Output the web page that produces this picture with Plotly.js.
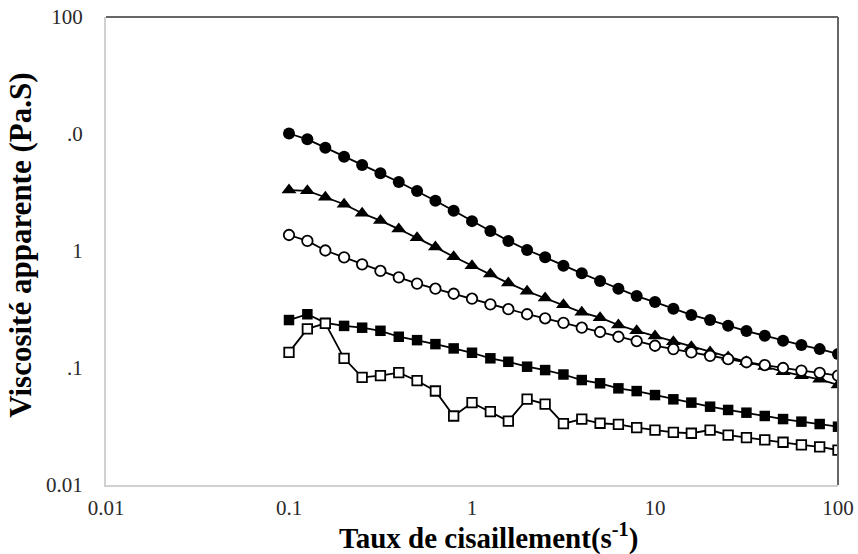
<!DOCTYPE html>
<html>
<head>
<meta charset="utf-8">
<script src="https://cdn.plot.ly/plotly-3.0.1.min.js"></script>
<style>html,body{margin:0;padding:0;background:#fff;}#chart{width:858px;height:554px;}</style>
</head>
<body>
<div id="chart"></div>
<script>
// Shear rate (s^-1)
const shearRate = [0.1, 0.126, 0.158, 0.2, 0.251, 0.316, 0.398, 0.501, 0.631, 0.794,
  1, 1.26, 1.58, 2, 2.51, 3.16, 3.98, 5.01, 6.31, 7.94,
  10, 12.6, 15.8, 20, 25.1, 31.6, 39.8, 50.1, 63.1, 79.4, 100];

// Apparent viscosity (Pa.s) for each sample
const filledCircles = [10.1, 9.0, 7.64, 6.40, 5.43, 4.61, 3.89, 3.26, 2.69, 2.21,
  1.80, 1.48, 1.22, 1.02, 0.883, 0.749, 0.644, 0.554, 0.476, 0.412,
  0.366, 0.321, 0.284, 0.257, 0.230, 0.207, 0.189, 0.171, 0.157, 0.145, 0.132];
const filledTriangles = [3.32, 3.27, 2.88, 2.51, 2.10, 1.82, 1.54, 1.30, 1.08, 0.893,
  0.748, 0.635, 0.532, 0.453, 0.396, 0.347, 0.299, 0.269, 0.233, 0.208,
  0.188, 0.168, 0.152, 0.137, 0.124, 0.113, 0.103, 0.093, 0.086, 0.080, 0.0716];
const openCircles = [1.37, 1.22, 1.01, 0.883, 0.769, 0.675, 0.596, 0.527, 0.476, 0.431,
  0.391, 0.350, 0.318, 0.288, 0.266, 0.243, 0.221, 0.203, 0.185, 0.170,
  0.155, 0.145, 0.136, 0.127, 0.119, 0.112, 0.106, 0.100, 0.095, 0.091, 0.086];
const filledSquares = [0.257, 0.288, 0.243, 0.229, 0.221, 0.208, 0.185, 0.173, 0.160, 0.147,
  0.135, 0.121, 0.113, 0.1026, 0.096, 0.088, 0.0789, 0.0740, 0.0670, 0.0635,
  0.0587, 0.0540, 0.0506, 0.0467, 0.0438, 0.0415, 0.0389, 0.0366, 0.0348, 0.0332, 0.0315];
const openSquares = [0.136, 0.216, 0.241, 0.121, 0.0833, 0.0859, 0.0912, 0.0779, 0.0636, 0.0389,
  0.0505, 0.0423, 0.0352, 0.0543, 0.0492, 0.0334, 0.0366, 0.0337, 0.0330, 0.0309,
  0.0295, 0.0282, 0.0277, 0.0295, 0.0267, 0.0254, 0.0243, 0.0232, 0.0220, 0.0212, 0.0199];

// Axis ticks as printed
const xTickVals = [0.01, 0.1, 1, 10, 100];
const xTickText = ['0.01', '0.1', '1', '10', '100'];
const yTickVals = [0.01, 0.1, 1, 10, 100];
const yTickText = ['0.01', '.1', '1', '.0', '100'];

const xTitle = 'Taux de cisaillement(s<sup>-1</sup>)';
const yTitle = 'Viscosité apparente (Pa.S)';

function trace(name, y, symbol, fill, size) {
  return {
    type: 'scatter', mode: 'lines+markers', name: name,
    x: shearRate, y: y,
    line: {color: '#000', width: 1.8},
    marker: {symbol: symbol, size: size, color: fill, line: {color: '#000', width: fill === '#fff' ? 1.8 : 0}}
  };
}

const data = [
  trace('Échantillon 1', filledCircles, 'circle', '#000', 12),
  trace('Échantillon 2', filledTriangles, 'triangle-up', '#000', 13),
  trace('Échantillon 3', openCircles, 'circle', '#fff', 10.5),
  trace('Échantillon 4', filledSquares, 'square', '#000', 10.5),
  trace('Échantillon 5', openSquares, 'square', '#fff', 9.5)
];

const tickFont = {family: 'Liberation Serif', size: 21, color: '#2a2a2a'};
const titleFont = {family: 'Liberation Serif', size: 29, color: '#000', weight: 'bold'};
const yTitleFont = {family: 'Liberation Serif', size: 31, color: '#000', weight: 'bold'};

const layout = {
  width: 858, height: 554,
  font: {family: 'Liberation Serif', size: 21, color: '#2a2a2a'},
  margin: {l: 106, r: 20, t: 17, b: 69},
  paper_bgcolor: '#fff', plot_bgcolor: '#fff',
  showlegend: false,
  xaxis: {
    type: 'log', range: [-2, 2], showgrid: false, zeroline: false,
    showline: true, linecolor: '#d0d0d0', linewidth: 2,
    ticks: '', tickmode: 'array', tickvals: xTickVals, ticktext: xTickText, tickfont: tickFont,
    ticklabelstandoff: 3
  },
  yaxis: {
    type: 'log', range: [-2, 2], showgrid: false, zeroline: false,
    showline: true, linecolor: '#d0d0d0', linewidth: 2,
    ticks: '', tickmode: 'array', tickvals: yTickVals, ticktext: yTickText, tickfont: tickFont,
    ticklabelstandoff: 17
  },
  shapes: [
    {type: 'line', xref: 'paper', yref: 'paper', x0: 0, x1: 1, y0: 1, y1: 1, line: {color: '#666', width: 2}},
    {type: 'line', xref: 'paper', yref: 'paper', x0: 1, x1: 1, y0: 0, y1: 1, line: {color: '#666', width: 2}}
  ],
  annotations: [
    {text: xTitle, xref: 'paper', yref: 'paper', x: 0.522, y: -0.11, xanchor: 'center', yanchor: 'middle',
     showarrow: false, font: titleFont},
    {text: yTitle, xref: 'paper', yref: 'paper', x: -0.117, y: 0.512, xanchor: 'center', yanchor: 'middle',
     textangle: -90, showarrow: false, font: yTitleFont}
  ]
};

Plotly.newPlot('chart', data, layout, {displayModeBar: false, staticPlot: true});
</script>
</body>
</html>
